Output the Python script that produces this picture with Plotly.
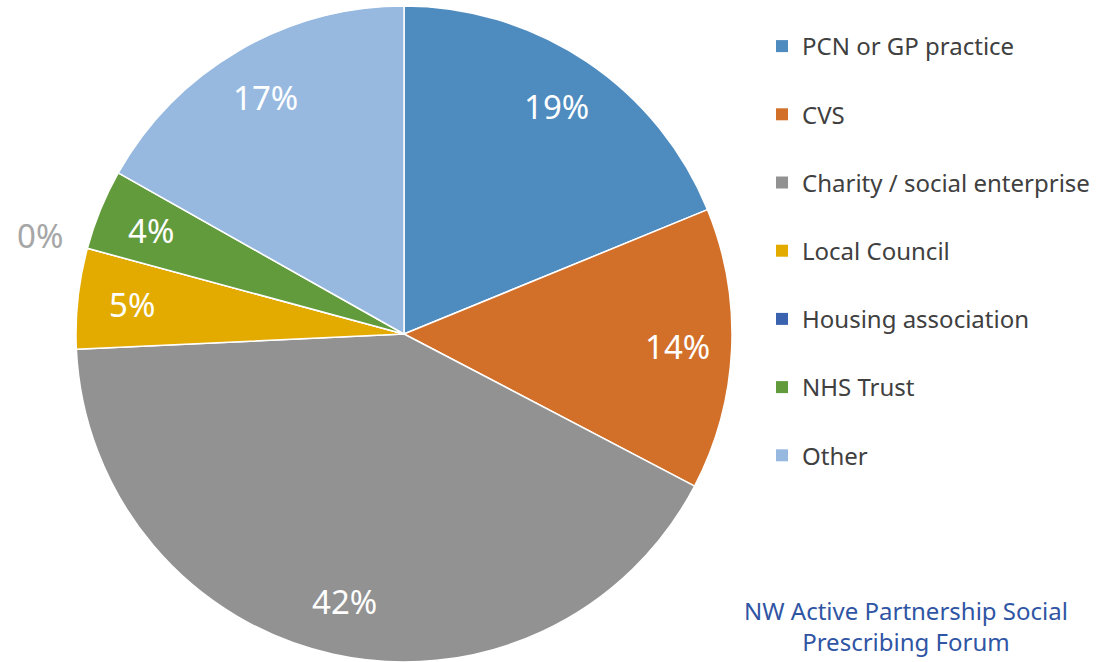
import math
import plotly.graph_objects as go

labels = ["PCN or GP practice", "CVS", "Charity / social enterprise", "Local Council",
          "Housing association", "NHS Trust", "Other"]
values = [19, 14, 42, 5, 0, 4, 17]
colors = ["#4e8bbf", "#d2702a", "#929292", "#e3ab00", "#3a62ae", "#629b3c", "#97b9e0"]
footer_text = "NW Active Partnership Social<br>Prescribing Forum"

FONT = "Noto Sans"
W, H = 1096, 662
cx, cy, R = 404, 334, 328

fig = go.Figure()
fig.add_trace(go.Pie(
    labels=labels, values=values, sort=False, direction="clockwise", rotation=0,
    marker=dict(colors=colors, line=dict(color="white", width=1.5)),
    textinfo="none",
    showlegend=False, hoverinfo="label+value",
    domain=dict(x=[(cx - R) / W, (cx + R) / W], y=[1 - (cy + R) / H, 1 - (cy - R) / H]),
))

# percentage labels placed along each slice's mid-angle
total = sum(values)
cum = 0
for v in values:
    mid = (cum + v / 2) / total * 2 * math.pi
    cum += v
    rf = 0.835 if v > 0 else 1.15
    px = cx + rf * R * math.sin(mid)
    py = cy - rf * R * math.cos(mid)
    fig.add_annotation(
        text=f"{v}%", x=px / W, y=1 - py / H, xref="paper", yref="paper",
        xanchor="center", yanchor="middle", showarrow=False,
        font=dict(family=FONT, size=33, color="white" if v > 0 else "#a6a6a6"),
    )

for lab, col in zip(labels, colors):
    fig.add_trace(go.Scatter(
        x=[None], y=[None], mode="markers", name=lab, legendgroup=lab,
        marker=dict(symbol="square", size=12, color=col),
        showlegend=True,
    ))

fig.add_annotation(
    text=footer_text, x=906 / W, y=1 - 626 / H, xref="paper", yref="paper",
    showarrow=False, xanchor="center", yanchor="middle", align="center",
    font=dict(family=FONT, size=24, color="#2f55a4"),
)

fig.update_layout(
    width=W, height=H, margin=dict(l=0, r=0, t=0, b=0),
    paper_bgcolor="white", plot_bgcolor="white",
    xaxis=dict(visible=False), yaxis=dict(visible=False),
    legend=dict(x=762 / W, y=1 - 24 / H, xanchor="left", yanchor="top",
                font=dict(family=FONT, size=24, color="#404040"),
                tracegroupgap=34, itemwidth=30, bgcolor="rgba(0,0,0,0)"),
)

fig.write_html("out.html", config={"displayModeBar": False},
               post_script="document.body.style.margin='0';")
